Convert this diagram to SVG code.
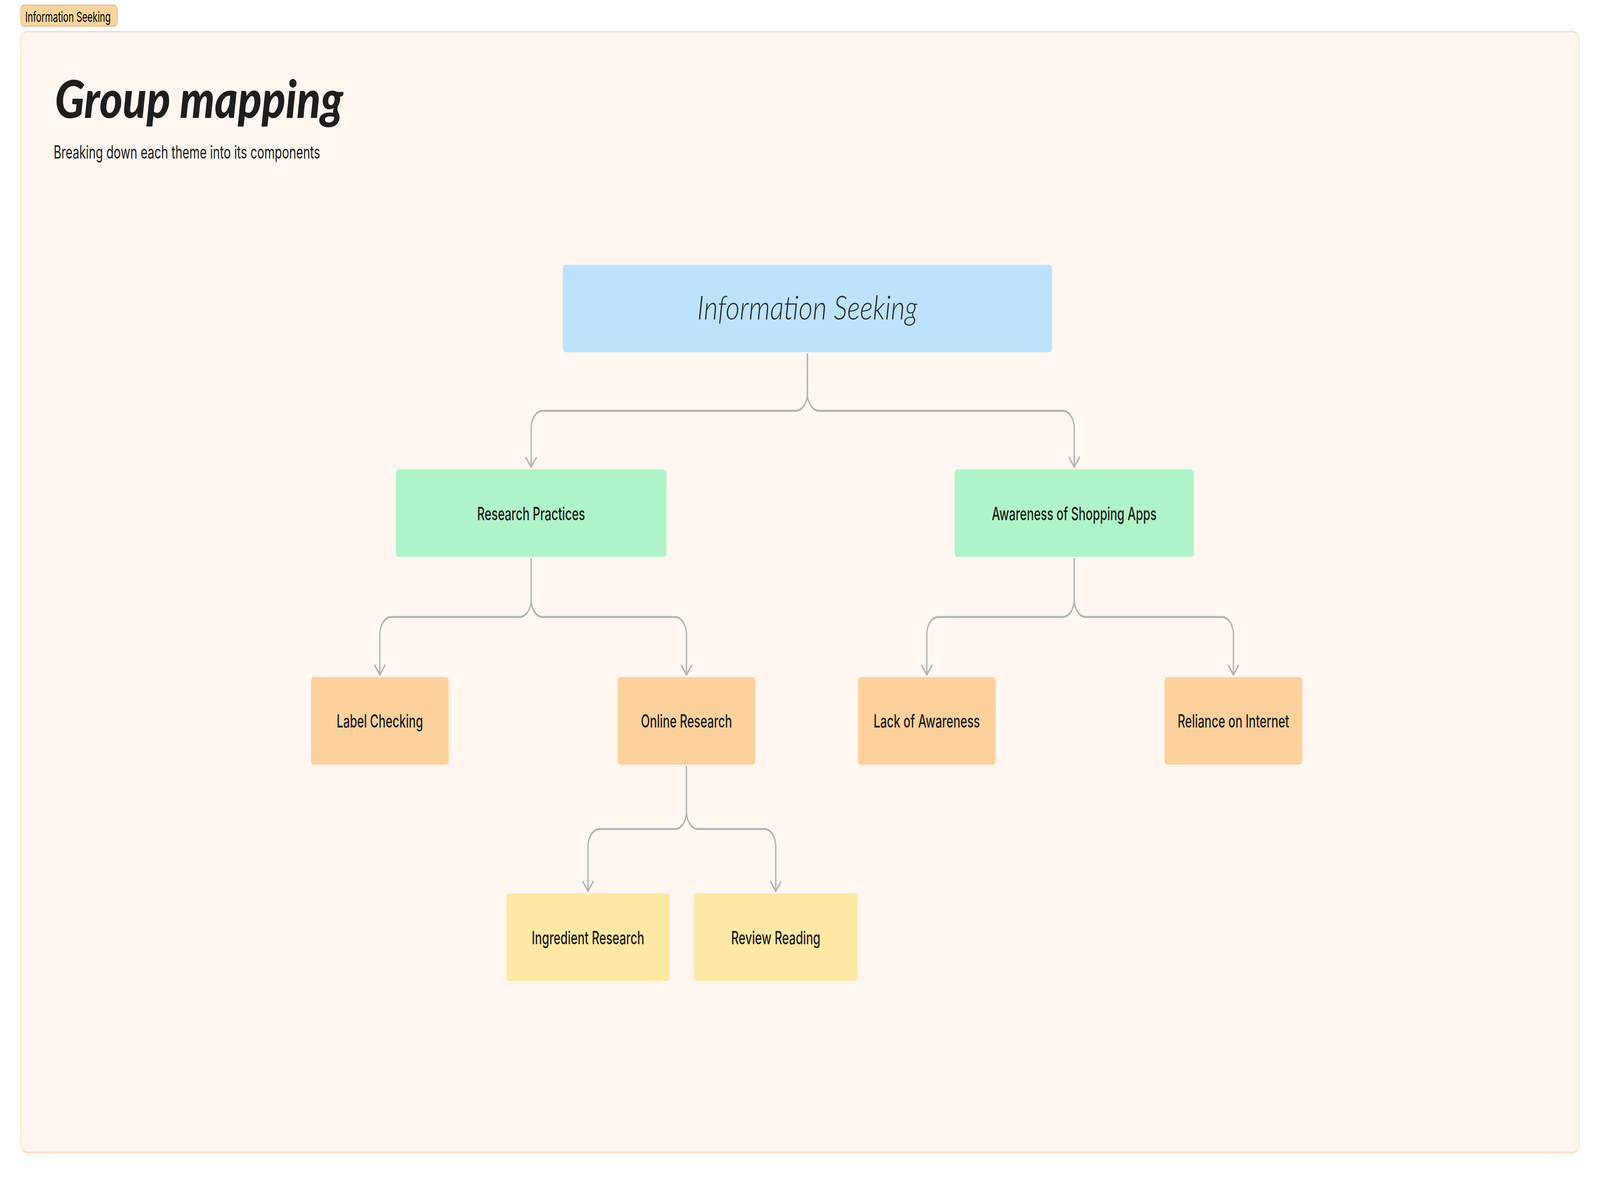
<svg xmlns="http://www.w3.org/2000/svg" width="6272" height="3032" viewBox="0 0 6272 3032" preserveAspectRatio="none" style="display:block;width:100vw;height:100vh">
<style>
.node-text{font-family:Inter,"Liberation Sans",sans-serif;font-size:46px;font-weight:500;fill:#1e1e1e;text-anchor:middle}
.conn{fill:none;stroke:#b3b3b3;stroke-width:5;stroke-linecap:round;stroke-linejoin:round;marker-end:url(#arrow)}
.blue{fill:#bde3fc}
.green{fill:#aff4c6}
.orange{fill:#fcd19c}
.yellow{fill:#ffe8a3}
</style>
<defs>
<marker id="arrow" markerUnits="userSpaceOnUse" viewBox="-30 -26 36 52" markerWidth="36" markerHeight="52" refX="0" refY="0" orient="auto">
<path d="M -24 -20 L 0 0 L -24 20" fill="none" stroke="#b3b3b3" stroke-width="5" stroke-linecap="round" stroke-linejoin="round"/>
</marker>
</defs>
<rect x="0" y="0" width="6272" height="3032" fill="#ffffff"/>
<g id="section-tag">
<rect x="81" y="13" width="379" height="54" rx="13" fill="#fcd49c" stroke="#d9b07a" stroke-width="2"/>
<text x="99" y="56" font-family="Inter,'Liberation Sans',sans-serif" font-size="36" fill="#000000" textLength="335" lengthAdjust="spacingAndGlyphs">Information Seeking</text>
</g>
<g id="frame">
<rect x="81" y="81" width="6110" height="2870" rx="24" fill="#fff7f0" stroke="#fcd196" stroke-width="2"/>
<text x="215" y="302" font-family="Lato,'Noto Sans',sans-serif" font-weight="900" font-style="italic" font-size="134" fill="#1e1e1e" textLength="1130" lengthAdjust="spacingAndGlyphs">Group mapping</text>
<text x="210" y="406" font-family="Inter,'Liberation Sans',sans-serif" font-size="46" fill="#1e1e1e" textLength="1045" lengthAdjust="spacingAndGlyphs">Breaking down each theme into its components</text>
</g>
<g id="connectors">
<path class="conn" d="M 3165 907 V 1007 A 45 45 0 0 1 3120 1052 H 2127 A 45 45 0 0 0 2082 1097 V 1196"/>
<path class="conn" d="M 3165 907 V 1007 A 45 45 0 0 0 3210 1052 H 4166 A 45 45 0 0 1 4211 1097 V 1196"/>
<path class="conn" d="M 2082 1431 V 1535 A 45 45 0 0 1 2037 1580 H 1534 A 45 45 0 0 0 1489 1625 V 1728"/>
<path class="conn" d="M 2082 1431 V 1535 A 45 45 0 0 0 2127 1580 H 2646 A 45 45 0 0 1 2691 1625 V 1728"/>
<path class="conn" d="M 4211 1431 V 1535 A 45 45 0 0 1 4166 1580 H 3678 A 45 45 0 0 0 3633 1625 V 1728"/>
<path class="conn" d="M 4211 1431 V 1535 A 45 45 0 0 0 4256 1580 H 4790 A 45 45 0 0 1 4835 1625 V 1728"/>
<path class="conn" d="M 2691 1964 V 2078 A 45 45 0 0 1 2646 2123 H 2350 A 45 45 0 0 0 2305 2168 V 2282"/>
<path class="conn" d="M 2691 1964 V 2078 A 45 45 0 0 0 2736 2123 H 2996 A 45 45 0 0 1 3041 2168 V 2282"/>
</g>
<g id="node-information-seeking">
<rect class="blue" x="2206" y="678" width="1918" height="224" rx="10"/>
<text x="3165" y="818" font-family="Lato,'Noto Sans',sans-serif" font-weight="300" font-style="italic" font-size="84" fill="#2a2a2a" text-anchor="middle" textLength="864" lengthAdjust="spacingAndGlyphs">Information Seeking</text>
</g>
<g id="node-research-practices">
<rect class="green" x="1552" y="1202" width="1060" height="224" rx="10"/>
<text class="node-text" x="2082" y="1332" textLength="423" lengthAdjust="spacingAndGlyphs">Research Practices</text>
</g>
<g id="node-awareness-of-shopping-apps">
<rect class="green" x="3742" y="1202" width="938" height="224" rx="10"/>
<text class="node-text" x="4211" y="1332" textLength="646" lengthAdjust="spacingAndGlyphs">Awareness of Shopping Apps</text>
</g>
<g id="node-label-checking">
<rect class="orange" x="1219" y="1734" width="540" height="224" rx="10"/>
<text class="node-text" x="1489" y="1863" textLength="339" lengthAdjust="spacingAndGlyphs">Label Checking</text>
</g>
<g id="node-online-research">
<rect class="orange" x="2421" y="1734" width="540" height="224" rx="10"/>
<text class="node-text" x="2691" y="1863" textLength="357" lengthAdjust="spacingAndGlyphs">Online Research</text>
</g>
<g id="node-lack-of-awareness">
<rect class="orange" x="3363" y="1734" width="540" height="224" rx="10"/>
<text class="node-text" x="3633" y="1863" textLength="417" lengthAdjust="spacingAndGlyphs">Lack of Awareness</text>
</g>
<g id="node-reliance-on-internet">
<rect class="orange" x="4565" y="1734" width="540" height="224" rx="10"/>
<text class="node-text" x="4835" y="1863" textLength="437" lengthAdjust="spacingAndGlyphs">Reliance on Internet</text>
</g>
<g id="node-ingredient-research">
<rect class="yellow" x="1985" y="2288" width="640" height="224" rx="10"/>
<text class="node-text" x="2305" y="2418" textLength="441" lengthAdjust="spacingAndGlyphs">Ingredient Research</text>
</g>
<g id="node-review-reading">
<rect class="yellow" x="2721" y="2288" width="640" height="224" rx="10"/>
<text class="node-text" x="3041" y="2418" textLength="350" lengthAdjust="spacingAndGlyphs">Review Reading</text>
</g>
</svg>
